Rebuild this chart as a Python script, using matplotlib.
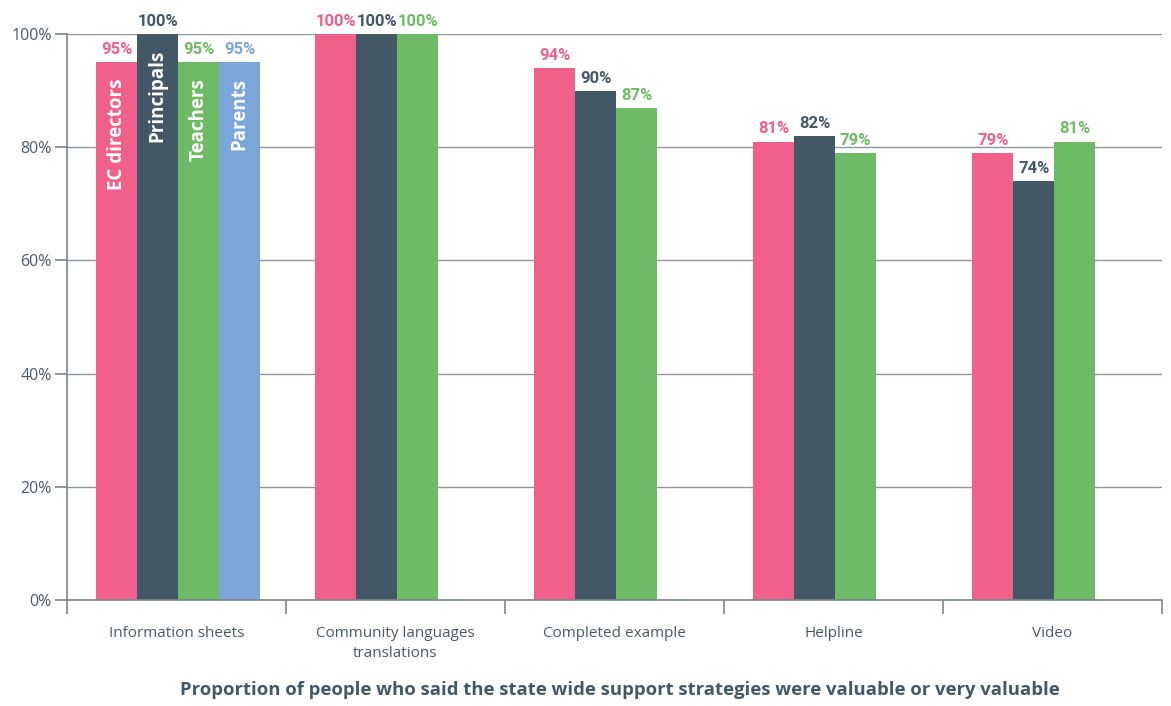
import matplotlib.pyplot as plt
import numpy as np

plt.rcParams['font.family'] = ['Open Sans', 'DejaVu Sans']

categories = ['Information sheets', 'Community languages\ntranslations',
              'Completed example', 'Helpline', 'Video']
groups = ['EC directors', 'Principals', 'Teachers', 'Parents']
ec_directors = [95, 100, 94, 81, 79]
principals = [100, 100, 90, 82, 74]
teachers = [95, 100, 87, 79, 81]
parents = [95, None, None, None, None]

colors = ['#F0608A', '#435867', '#6EBA66', '#7AA7D8']
series = [ec_directors, principals, teachers, parents]

fig = plt.figure(figsize=(11.71, 7.06), dpi=100)
ax = fig.add_axes([0.0572, 0.150, 0.9351, 0.8018])

x = np.arange(len(categories))
w = 0.187
for k, vals in enumerate(series):
    for i, v in enumerate(vals):
        if v is None:
            continue
        xpos = x[i] + (k - 1.5) * w + 0.008
        ax.bar(xpos, v, width=w, color=colors[k], zorder=2)
        # value labels in a slightly narrower face so 100% fits the bar
        ax.text(xpos, v + 0.9, f'{v}%', ha='center', va='bottom',
                color=colors[k], fontsize=12, fontweight='bold',
                family=['Roboto', 'DejaVu Sans'])
        # group names written inside the first group's bars
        if i == 0:
            ax.text(xpos, v - 2.8, groups[k], rotation=90, ha='center', va='top',
                    color='white', fontsize=13.5, fontweight='bold', zorder=3)

ax.set_xlim(-0.5, len(categories) - 0.5)
ax.set_ylim(0, 100)
ax.set_yticks([0, 20, 40, 60, 80, 100])
ax.set_yticklabels(['0%', '20%', '40%', '60%', '80%', '100%'])
ax.yaxis.grid(True, color='#8C949C', linewidth=1, zorder=0)
ax.set_axisbelow(True)

ax.set_xticks(x)
ax.set_xticklabels(categories, linespacing=1.45)
ax.set_xticks(np.arange(len(categories) + 1) - 0.5, minor=True)
ax.tick_params(axis='x', which='major', length=0, pad=19, labelsize=11,
               labelcolor='#4A5A68')
ax.tick_params(axis='x', which='minor', length=10, width=1.2, color='#7A8590')
ax.tick_params(axis='y', length=9, width=1.2, color='#7A8590', labelsize=11.5,
               labelcolor='#4A5A68', pad=2)

for s in ['top', 'right']:
    ax.spines[s].set_visible(False)
for s in ['left', 'bottom']:
    ax.spines[s].set_color('#7A8590')
    ax.spines[s].set_linewidth(1.2)

fig.text(0.529, 0.023,
         'Proportion of people who said the state wide support strategies were valuable or very valuable',
         ha='center', va='center', fontsize=13.3, fontweight='bold', color='#435867')

fig.savefig('out.png', dpi=100)
